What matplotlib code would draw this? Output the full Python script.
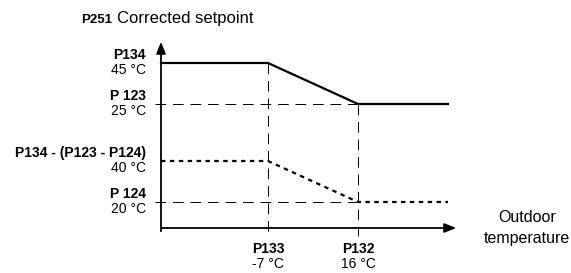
import numpy as np
import matplotlib.pyplot as plt

plt.rcParams['font.family'] = ['Liberation Sans', 'DejaVu Sans']

# schematic diagram, positions in pixel units of the drawing
x_names = ['P133', 'P132']
x_values = ['-7 °C', '16 °C']
x_pos = [268, 358]
x_start, x_end = 161, 448

y_names = ['P134', 'P 123', 'P134 - (P123 - P124)', 'P 124']
y_values = ['45 °C', '25 °C', '40 °C', '20 °C']
y_pos = [63, 104, 161, 202]

fig = plt.figure(figsize=(5.71, 2.73), dpi=100)
ax = fig.add_axes([0, 0, 1, 1])
ax.set_xlim(0, 571)
ax.set_ylim(273, 0)
ax.axis('off')

#%% axes with arrows
ax.annotate('', xy=(161, 39), xytext=(161, 234),
            arrowprops=dict(arrowstyle='-|>,head_length=0.7,head_width=0.28', color='k', lw=1.3))
ax.annotate('', xy=(459, 228), xytext=(159, 228),
            arrowprops=dict(arrowstyle='-|>,head_length=0.7,head_width=0.28', color='k', lw=1.3))

#%% curves
ax.plot([x_start, x_pos[0], x_pos[1], x_end], [y_pos[0], y_pos[0], y_pos[1], y_pos[1]],
        color='k', lw=1.6)
ax.plot([x_start, x_pos[0], x_pos[1], x_end], [y_pos[2], y_pos[2], y_pos[3], y_pos[3]],
        color='k', lw=1.6, linestyle=(0, (2, 2)))

#%% dashed guides
dash = (0, (11, 7))
ax.plot([155, x_pos[1]], [y_pos[1], y_pos[1]], color='k', lw=0.7, linestyle=dash)
ax.plot([155, x_pos[1]], [y_pos[3], y_pos[3]], color='k', lw=0.7, linestyle=dash)
ax.plot([x_pos[0], x_pos[0]], [y_pos[0], 236], color='k', lw=0.7, linestyle=dash)
ax.plot([x_pos[1], x_pos[1]], [y_pos[1], 236], color='k', lw=0.7, linestyle=dash)

#%% labels
for name, val, y in zip(y_names, y_values, y_pos):
    ax.text(146, y - 8, name, ha='right', va='center', fontsize=10, fontweight='bold')
    ax.text(146, y + 7, val, ha='right', va='center', fontsize=10)

for name, val, x in zip(x_names, x_values, x_pos):
    ax.text(x, 249, name, ha='center', va='center', fontsize=10, fontweight='bold')
    ax.text(x, 264, val, ha='center', va='center', fontsize=10)

ax.text(112, 20, 'P251', ha='right', va='center', fontsize=9.5, fontweight='bold')
ax.text(117, 19, 'Corrected setpoint', ha='left', va='center', fontsize=12)
ax.text(527, 218, 'Outdoor', ha='center', va='center', fontsize=11.5)
ax.text(527, 239, 'temperature', ha='center', va='center', fontsize=11.5)

fig.savefig('out.png', dpi=100)
